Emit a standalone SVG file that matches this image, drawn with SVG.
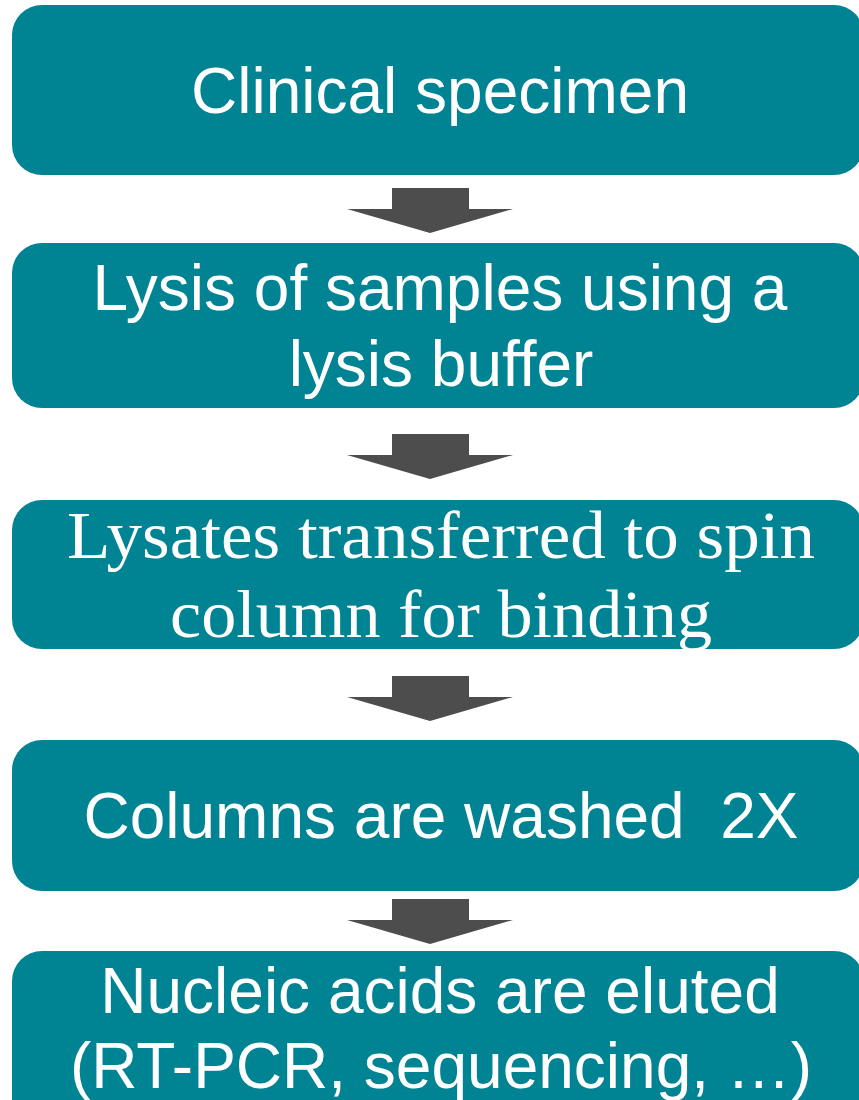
<svg xmlns="http://www.w3.org/2000/svg" width="859" height="1100" viewBox="0 0 859 1100">
  <style>
    .box { fill: #008393; }
    .sans { font-family: "Liberation Sans", Arial, sans-serif; font-size: 64px; fill: #ffffff; text-anchor: middle; white-space: pre; }
    .serif { font-family: "Liberation Serif", "Times New Roman", serif; font-size: 68px; fill: #ffffff; text-anchor: middle; }
    .arrow { fill: #4d4d4d; }
  </style>
  <defs>
    <!-- block arrow pointing down, drawn with its tip at the origin -->
    <path id="downArrow" d="M -38 -45 L 39 -45 L 39 -24 L 83 -24 L 0 0 L -83 -24 L -38 -24 Z"/>
  </defs>
  <rect width="859" height="1100" fill="#ffffff"/>

  <g id="connectors">
    <use href="#downArrow" class="arrow" x="430" y="233"/>
    <use href="#downArrow" class="arrow" x="430" y="479"/>
    <use href="#downArrow" class="arrow" x="430" y="721"/>
    <use href="#downArrow" class="arrow" x="430" y="944"/>
  </g>

  <g id="step1">
    <rect class="box" x="12" y="5" width="852" height="170" rx="30"/>
    <text class="sans" x="440" y="113">Clinical specimen</text>
  </g>

  <g id="step2">
    <rect class="box" x="12" y="243" width="852" height="165" rx="30"/>
    <text class="sans" x="440" y="310">Lysis of samples using a</text>
    <text class="sans" x="441" y="386">lysis buffer</text>
  </g>

  <g id="step3">
    <rect class="box" x="12" y="500" width="852" height="149" rx="30"/>
    <text class="serif" x="441" y="558" textLength="748" lengthAdjust="spacingAndGlyphs">Lysates transferred to spin</text>
    <text class="serif" x="441" y="637" textLength="542" lengthAdjust="spacingAndGlyphs">column for binding</text>
  </g>

  <g id="step4">
    <rect class="box" x="12" y="740" width="852" height="151" rx="30"/>
    <text class="sans" x="441" y="838">Columns are washed  2X</text>
  </g>

  <g id="step5">
    <rect class="box" x="12" y="951" width="852" height="180" rx="30"/>
    <text class="sans" x="440" y="1013">Nucleic acids are eluted</text>
    <text class="sans" x="441" y="1088">(RT-PCR, sequencing, …)</text>
  </g>
</svg>
